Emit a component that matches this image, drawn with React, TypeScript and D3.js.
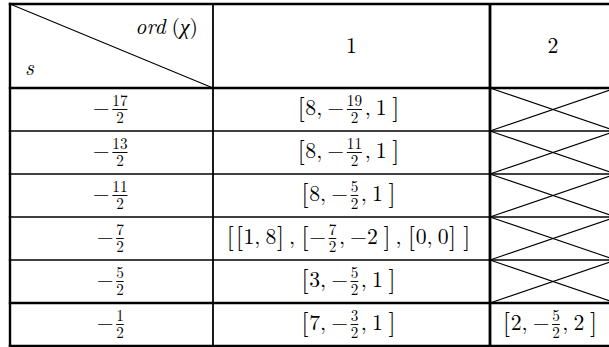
import React from 'react';
import * as d3 from 'd3';

const W = 609;
const H = 347;

// table content
const cornerTop = 'ord';
const cornerChi = 'χ';
const cornerLeft = 's';
const colHeaders = ['1', '2'];
const rowLabels = ['-17/2', '-13/2', '-11/2', '-7/2', '-5/2', '-1/2'];
const col1Values = [
  '[8,-19/2,1]',
  '[8,-11/2,1]',
  '[8,-5/2,1]',
  '[[1,8],[-7/2,-2],[0,0]]',
  '[3,-5/2,1]',
  '[7,-3/2,1]',
];
const col2Values: (string | null)[] = [null, null, null, null, null, '[2,-5/2,2]'];

// layout
const colEdges = [10, 213, 490, 616];
const headerTop = 4;
const headerBottom = 88;
const tableBottom = 346;
const FONT = "'Latin Modern Roman', 'Liberation Serif', serif";
const F = 21.7;
const FS = 15.2;

let ctx: CanvasRenderingContext2D | null = null;
function tw(s: string, size: number, italic = false): number {
  if (!ctx && typeof document !== 'undefined') {
    ctx = document.createElement('canvas').getContext('2d');
  }
  if (!ctx) return s.length * size * 0.5;
  ctx.font = `${italic ? 'italic ' : ''}${size}px ${FONT}`;
  return ctx.measureText(s).width;
}

type Tok =
  | { k: 'lb' }
  | { k: 'rb' }
  | { k: 'comma' }
  | { k: 'minus' }
  | { k: 'num'; s: string }
  | { k: 'frac'; n: string; d: string };

function parse(expr: string): Tok[] {
  const toks: Tok[] = [];
  let i = 0;
  while (i < expr.length) {
    const c = expr[i];
    if (c === '[') { toks.push({ k: 'lb' }); i++; continue; }
    if (c === ']') { toks.push({ k: 'rb' }); i++; continue; }
    if (c === ',') { toks.push({ k: 'comma' }); i++; continue; }
    const m = /^(-?)(\d+)(?:\/(\d+))?/.exec(expr.slice(i));
    if (m) {
      if (m[1]) toks.push({ k: 'minus' });
      if (m[3]) toks.push({ k: 'frac', n: m[2], d: m[3] });
      else toks.push({ k: 'num', s: m[2] });
      i += m[0].length;
      continue;
    }
    i++;
  }
  return toks;
}

type Item =
  | { t: 'text'; x: number; y: number; s: string; size: number; anchor?: string }
  | { t: 'bar'; x1: number; x2: number; y: number };

const BR_SIZE = 26;

function layout(expr: string, cx: number, axis: number): Item[] {
  const toks = parse(expr);
  const items: Item[] = [];
  const base = axis + 0.25 * F;
  let x = 0;
  const stack: boolean[] = [];
  let prev: Tok | null = null;
  const BR_ADV = 0.417 * F;
  const brBase = axis + 0.25 * BR_SIZE;
  for (const tk of toks) {
    if (tk.k === 'lb') {
      stack.push(false);
      items.push({ t: 'text', x: x + 1.2, y: brBase, s: '[', size: BR_SIZE });
      x += BR_ADV;
    } else if (tk.k === 'rb') {
      const hadFrac = stack.pop();
      if (hadFrac) x += 5;
      if (stack.length && hadFrac) stack[stack.length - 1] = true;
      items.push({ t: 'text', x: x + BR_ADV - 1.2, y: brBase, s: ']', size: BR_SIZE, anchor: 'end' });
      x += BR_ADV;
    } else if (tk.k === 'comma') {
      if (prev && prev.k === 'rb') x += 0.1667 * F;
      items.push({ t: 'text', x, y: base, s: ',', size: F });
      x += 0.278 * F + 0.1667 * F + 1.5;
    } else if (tk.k === 'minus') {
      const adv = 0.778 * F;
      items.push({ t: 'text', x: x + adv / 2, y: base, s: '−', size: F, anchor: 'middle' });
      x += adv;
    } else if (tk.k === 'num') {
      items.push({ t: 'text', x, y: base, s: tk.s, size: F });
      x += tw(tk.s, F);
    } else if (tk.k === 'frac') {
      if (stack.length) stack[stack.length - 1] = true;
      const pad = 0.12 * F;
      const wn = tw(tk.n, FS);
      const wd = tw(tk.d, FS);
      const w = Math.max(wn, wd);
      const c = x + pad + w / 2;
      items.push({ t: 'text', x: c, y: axis - 0.15 * F, s: tk.n, size: FS, anchor: 'middle' });
      items.push({ t: 'text', x: c, y: axis + 0.6 * F, s: tk.d, size: FS, anchor: 'middle' });
      items.push({ t: 'bar', x1: x + pad, x2: x + pad + w, y: axis });
      x += w + 2 * pad;
    }
    prev = tk;
  }
  const off = cx - x / 2;
  return items.map((it) =>
    it.t === 'text' ? { ...it, x: it.x + off } : { ...it, x1: it.x1 + off, x2: it.x2 + off }
  );
}

function Expr({ items }: { items: Item[] }) {
  return (
    <g>
      {items.map((it, i) =>
        it.t === 'text' ? (
          <text
            key={i}
            x={it.x}
            y={it.y}
            fontSize={it.size}
            style={{ fontFamily: FONT }}
            textAnchor={it.anchor || 'start'}
            fill="#000"
          >
            {it.s}
          </text>
        ) : (
          <line key={i} x1={it.x1} x2={it.x2} y1={it.y} y2={it.y} stroke="#000" strokeWidth={0.95} />
        )
      )}
    </g>
  );
}

export default function App() {
  const nRows = rowLabels.length;
  const y = d3.scaleLinear().domain([0, nRows]).range([headerBottom, tableBottom]);
  const colCenter = (i: number) => (colEdges[i] + colEdges[i + 1]) / 2;
  const rowMid = (i: number) => (y(i) + y(i + 1)) / 2;

  const rowLineWidth = (i: number) => {
    if (i === 0 || i === nRows || i === nRows - 1) return 2.6;
    return 1.3;
  };

  return (
    <svg
      width={W}
      height={H}
      style={{ position: 'absolute', left: 0, top: 0, background: '#fff', fontFamily: FONT }}
    >
      <rect x={0} y={0} width={W} height={H} fill="#fff" />
      <line x1={colEdges[0] - 1.2} x2={colEdges[3]} y1={headerTop} y2={headerTop} stroke="#000" strokeWidth={2.4} />
      {d3.range(0, nRows + 1).map((i) => (
        <line
          key={'h' + i}
          x1={colEdges[0] - 1.2}
          x2={colEdges[3]}
          y1={y(i)}
          y2={y(i)}
          stroke="#000"
          strokeWidth={rowLineWidth(i)}
        />
      ))}
      <line x1={colEdges[0]} x2={colEdges[0]} y1={headerTop - 1.2} y2={tableBottom + 1.3} stroke="#000" strokeWidth={2.4} />
      <line x1={colEdges[1]} x2={colEdges[1]} y1={headerTop} y2={tableBottom} stroke="#000" strokeWidth={1.8} />
      <line x1={colEdges[2]} x2={colEdges[2]} y1={headerTop} y2={tableBottom} stroke="#000" strokeWidth={2.8} />

      <line x1={colEdges[0]} y1={headerTop} x2={colEdges[1]} y2={headerBottom} stroke="#000" strokeWidth={1.1} />
      <text x={198} y={34} fontSize={F} style={{ fontFamily: FONT }} textAnchor="end" fill="#000">
        <tspan fontStyle="italic">{cornerTop}</tspan>
        <tspan dx={6}>(</tspan>
        <tspan fontStyle="italic" style={{ fontFamily: "'Liberation Serif', serif" }}>{cornerChi}</tspan>
        <tspan>)</tspan>
      </text>
      <text x={25} y={75} fontSize={F} style={{ fontFamily: FONT }} fontStyle="italic" fill="#000">
        {cornerLeft}
      </text>

      {colHeaders.map((h, i) => (
        <text
          key={'ch' + i}
          x={colCenter(i + 1)}
          y={53}
          fontSize={F}
          style={{ fontFamily: FONT }}
          textAnchor="middle"
          fill="#000"
        >
          {h}
        </text>
      ))}

      {rowLabels.map((r, i) => (
        <Expr key={'rl' + i} items={layout(r, colCenter(0), rowMid(i))} />
      ))}

      {col1Values.map((v, i) => (
        <Expr key={'c1' + i} items={layout(v, colCenter(1) - 3, rowMid(i))} />
      ))}

      {col2Values.map((v, i) =>
        v ? (
          <Expr key={'c2' + i} items={layout(v, colCenter(2) - 3, rowMid(i))} />
        ) : (
          <g key={'c2' + i}>
            <line x1={colEdges[2]} y1={y(i)} x2={colEdges[3]} y2={y(i + 1)} stroke="#000" strokeWidth={1.1} />
            <line x1={colEdges[2]} y1={y(i + 1)} x2={colEdges[3]} y2={y(i)} stroke="#000" strokeWidth={1.1} />
          </g>
        )
      )}
    </svg>
  );
}
